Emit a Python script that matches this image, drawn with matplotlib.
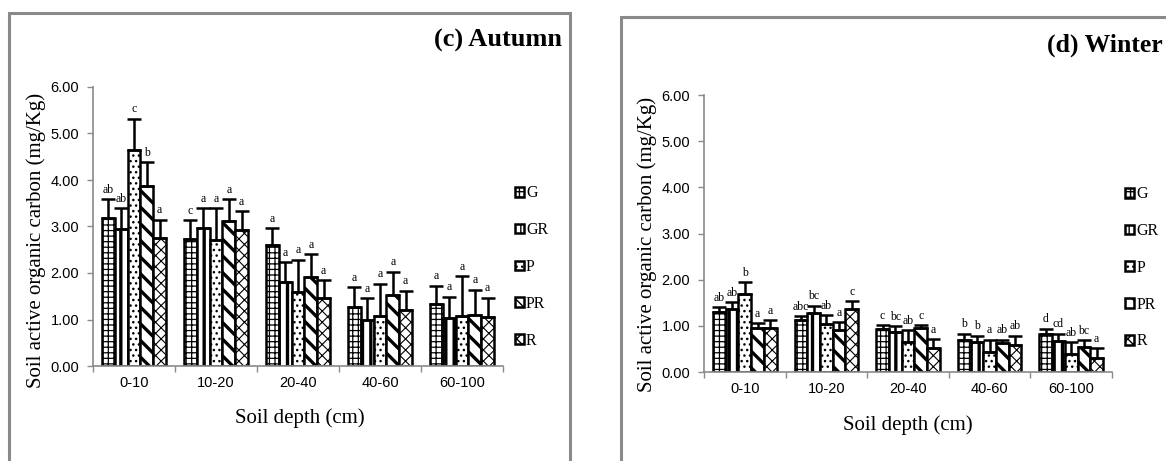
import matplotlib
matplotlib.use("Agg")
import matplotlib.pyplot as plt
from matplotlib.patches import Rectangle, Patch
import numpy as np

# depth classes and treatments
depths = ["0-10", "10-20", "20-40", "40-60", "60-100"]
treatments = ["G", "GR", "P", "PR", "R"]

# (c) Autumn: bar means, top of error bar, significance letters (rows = treatment)
autumn_mean = {
    "G":  [3.19, 2.73, 2.61, 1.27, 1.34],
    "GR": [2.95, 2.97, 1.81, 1.00, 1.03],
    "P":  [4.65, 2.70, 1.59, 1.08, 1.08],
    "PR": [3.88, 3.11, 1.91, 1.52, 1.10],
    "R":  [2.75, 2.92, 1.46, 1.21, 1.05],
}
autumn_upper = {
    "G":  [3.59, 3.13, 2.97, 1.69, 1.73],
    "GR": [3.40, 3.40, 2.24, 1.46, 1.49],
    "P":  [5.32, 3.40, 2.29, 1.77, 1.94],
    "PR": [4.39, 3.59, 2.41, 2.03, 1.64],
    "R":  [3.15, 3.33, 1.85, 1.62, 1.47],
}
autumn_letters = {
    "G":  ["ab", "c", "a", "a", "a"],
    "GR": ["ab", "a", "a", "a", "a"],
    "P":  ["c", "a", "a", "a", "a"],
    "PR": ["b", "a", "a", "a", "a"],
    "R":  ["a", "a", "a", "a", "a"],
}

# (d) Winter
winter_mean = {
    "G":  [1.30, 1.12, 0.94, 0.69, 0.82],
    "GR": [1.36, 1.28, 0.87, 0.65, 0.67],
    "P":  [1.70, 1.05, 0.65, 0.43, 0.40],
    "PR": [0.96, 0.92, 0.96, 0.63, 0.54],
    "R":  [0.96, 1.36, 0.53, 0.59, 0.31],
}
winter_upper = {
    "G":  [1.40, 1.21, 1.02, 0.83, 0.94],
    "GR": [1.52, 1.44, 0.99, 0.79, 0.83],
    "P":  [1.94, 1.23, 0.90, 0.70, 0.65],
    "PR": [1.06, 1.08, 1.02, 0.70, 0.69],
    "R":  [1.13, 1.53, 0.72, 0.79, 0.51],
}
winter_letters = {
    "G":  ["ab", "abc", "c", "b", "d"],
    "GR": ["ab", "bc", "bc", "b", "cd"],
    "P":  ["b", "ab", "ab", "a", "ab"],
    "PR": ["a", "a", "c", "ab", "bc"],
    "R":  ["a", "c", "a", "ab", "a"],
}

hatches = {"G": "+++", "GR": "||", "P": "...", "PR": "\\\\", "R": "xxx"}
hatch_lw = {"G": 0.9, "GR": 2.4, "P": 1.0, "PR": 2.4, "R": 0.8}

W, H = 1166, 461
fig = plt.figure(figsize=(W / 100, H / 100), dpi=100)
fig.patch.set_facecolor("white")

serif = "Liberation Serif"
sans = "Liberation Sans"
grey = "#8a8a8a"


def px_rect(x0, y0, x1, y1):
    # pixel box -> figure fraction [left, bottom, width, height]
    return [x0 / W, 1 - y1 / H, (x1 - x0) / W, (y1 - y0) / H]


# panel frames
for (x0, y0, x1, y1) in [(9, 13, 570, 480), (621, 17, 1190, 480)]:
    fig.add_artist(Rectangle((x0 / W, 1 - y1 / H), (x1 - x0) / W, (y1 - y0) / H,
                             transform=fig.transFigure, fill=False,
                             edgecolor=grey, linewidth=2.2, clip_on=False))


def draw_panel(rect, mean, upper, letters, ylab_xy, xlab_xy, leg_xy):
    ax = fig.add_axes(rect)
    n = len(depths)
    centers = np.arange(n) + 0.5
    width = 0.156
    for k, t in enumerate(treatments):
        x = centers + (k - 2) * width
        bars = ax.bar(x, mean[t], width, color="white", edgecolor="black",
                      linewidth=1.8, hatch=hatches[t], zorder=2)
        for b in bars:
            try:
                b.set_hatch_linewidth(hatch_lw[t])
            except AttributeError:
                pass
        lo = np.zeros(n)
        hi = np.array(upper[t]) - np.array(mean[t])
        ax.errorbar(x, mean[t], yerr=[lo, hi], fmt="none", ecolor="black",
                    elinewidth=1.8, capsize=5, capthick=1.8, zorder=3)
        for xi, yi, lab in zip(x, upper[t], letters[t]):
            ax.text(xi, yi + 0.07, lab, ha="center", va="bottom",
                    fontsize=8.5, family=serif)

    ax.set_xlim(0, n)
    ax.set_ylim(0, 6)
    ax.set_yticks(np.arange(0, 7, 1))
    ax.set_yticklabels([f"{v:.2f}" for v in range(7)], family=sans, fontsize=10.5)
    ax.set_xticks(centers)
    ax.set_xticklabels(depths, family=sans, fontsize=10.5)
    ax.set_xticks(np.arange(n + 1), minor=True)
    ax.tick_params(axis="x", which="major", length=0, pad=7)
    ax.tick_params(axis="x", which="minor", length=4, width=1, color=grey, direction="out")
    ax.tick_params(axis="y", length=4, width=1, color=grey, pad=6)
    for s in ["top", "right"]:
        ax.spines[s].set_visible(False)
    for s in ["left", "bottom"]:
        ax.spines[s].set_color(grey)
        ax.spines[s].set_linewidth(1.2)

    ax.set_ylabel("Soil active organic carbon (mg/Kg)", family=serif, fontsize=15)
    ax.yaxis.set_label_coords(*ylab_xy)
    ax.set_xlabel("Soil depth (cm)", family=serif, fontsize=15)
    ax.xaxis.set_label_coords(*xlab_xy)

    handles = [Patch(facecolor="white", edgecolor="black", linewidth=1.8,
                     hatch=hatches[t], label=t) for t in treatments]
    ax.legend(handles=handles, loc="upper left", bbox_to_anchor=leg_xy,
              frameon=False, handlelength=0.55, handleheight=0.55,
              handletextpad=0.15, labelspacing=1.3, borderpad=0,
              borderaxespad=0, prop={"family": serif, "size": 11.5})
    return ax


draw_panel(px_rect(93, 87, 503, 366), autumn_mean, autumn_upper, autumn_letters,
           (-0.115, 0.45), (0.505, -0.15), (1.029, 0.647))
draw_panel(px_rect(704, 95, 1112, 372), winter_mean, winter_upper, winter_letters,
           (-0.115, 0.46), (0.5, -0.155), (1.032, 0.67))

fig.text(562 / W, 1 - 40 / H, "(c) Autumn", ha="right", va="center",
         family=serif, fontsize=19, fontweight="bold")
fig.text(1163 / W, 1 - 45 / H, "(d) Winter", ha="right", va="center",
         family=serif, fontsize=18.5, fontweight="bold")

fig.savefig("out.png", dpi=100)
